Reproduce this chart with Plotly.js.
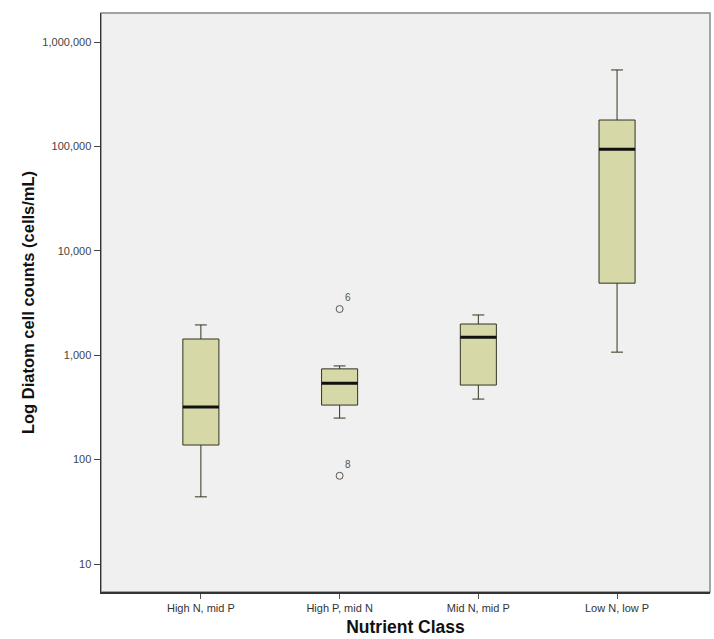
<!DOCTYPE html>
<html>
<head>
<meta charset="utf-8">
<script src="https://cdn.plot.ly/plotly-3.0.1.min.js"></script>
<style>html,body{margin:0;padding:0;background:#fff;}#chart{width:714px;height:639px;}</style>
</head>
<body>
<div id="chart"></div>
<script>
const categories = ["High N, mid P", "High P, mid N", "Mid N, mid P", "Low N, low P"];
const lowerWhisker = [44, 250, 380, 1070];
const q1 = [138, 333, 518, 4900];
const median = [320, 540, 1490, 94000];
const q3 = [1430, 740, 1990, 179000];
const upperWhisker = [1950, 790, 2430, 540000];
const outlierCats = ["High P, mid N", "High P, mid N"];
const outlierValues = [2770, 70];
const outlierLabels = ["6", "8"];
const yTickVals = [10, 100, 1000, 10000, 100000, 1000000];
const yTickText = ["10", "100", "1,000", "10,000", "100,000", "1,000,000"];

const boxWidth = 0.26;

const boxes = {
  type: 'box',
  x: categories,
  q1: q1, median: median, q3: q3,
  lowerfence: lowerWhisker, upperfence: upperWhisker,
  width: boxWidth,
  whiskerwidth: 0.33,
  fillcolor: 'rgb(214,216,168)',
  line: {color: '#33331f', width: 1},
  hoverinfo: 'skip',
  showlegend: false
};

const medians = {
  type: 'box',
  x: categories,
  q1: median, median: median, q3: median,
  lowerfence: median, upperfence: median,
  width: boxWidth,
  whiskerwidth: 0,
  fillcolor: 'rgba(0,0,0,0)',
  line: {color: '#111', width: 3},
  hoverinfo: 'skip',
  showlegend: false
};

const outliers = {
  type: 'scatter',
  mode: 'markers+text',
  x: outlierCats,
  y: outlierValues,
  text: outlierLabels,
  textposition: 'top right',
  textfont: {family: 'Liberation Sans, Arial, sans-serif', size: 10, color: '#555'},
  marker: {symbol: 'circle-open', size: 7, color: '#555', line: {width: 1}},
  hoverinfo: 'skip',
  showlegend: false
};

const layout = {
  width: 714, height: 639,
  margin: {l: 101, r: 4, t: 13, b: 47},
  paper_bgcolor: '#ffffff',
  plot_bgcolor: '#f0f0f0',
  font: {family: 'Liberation Sans, Arial, sans-serif', size: 11, color: '#333'},
  boxmode: 'overlay',
  showlegend: false,
  xaxis: {
    type: 'category',
    range: [-0.72, 3.67],
    showgrid: false, zeroline: false,
    showline: true, linecolor: '#333', linewidth: 1.5,
    ticks: 'outside', ticklen: 5, tickcolor: '#555', tickwidth: 1,
    tickfont: {size: 11, color: '#333'},
    title: {text: 'Nutrient Class', font: {size: 17.5, color: '#111', family: 'Liberation Sans, Arial, sans-serif', weight: 'bold'}, standoff: 8},
    automargin: false,
    fixedrange: true
  },
  yaxis: {
    type: 'log',
    range: [0.732, 6.278],
    tickvals: yTickVals,
    ticktext: yTickText,
    showgrid: false, zeroline: false,
    showline: true, linecolor: '#333', linewidth: 1.5,
    ticks: 'outside', ticklen: 6, tickcolor: '#444', tickwidth: 1,
    tickfont: {size: 11, color: '#444'},
    title: {text: 'Log Diatom cell counts (cells/mL)', font: {size: 16.5, color: '#111', family: 'Liberation Sans, Arial, sans-serif', weight: 'bold'}, standoff: 3},
    automargin: false,
    fixedrange: true
  },
  shapes: [
    {type: 'rect', xref: 'paper', yref: 'paper', x0: 0, x1: 1, y0: 0, y1: 1,
     line: {color: '#888', width: 1.5}, fillcolor: 'rgba(0,0,0,0)', layer: 'below'}
  ]
};

Plotly.newPlot('chart', [boxes, medians, outliers], layout, {displayModeBar: false, staticPlot: true});
</script>
</body>
</html>
